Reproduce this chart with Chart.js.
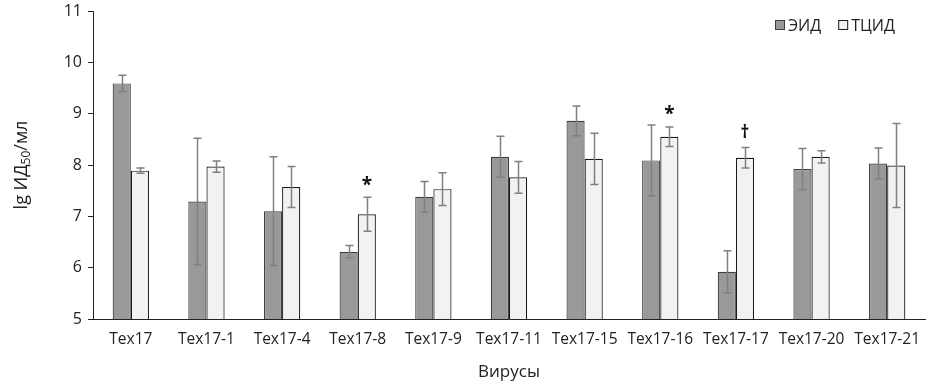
<!DOCTYPE html>
<html>
<head>
<meta charset="utf-8">
<script src="https://cdn.jsdelivr.net/npm/chart.js@4.4.1/dist/chart.umd.min.js"></script>
<style>
html,body{margin:0;padding:0;background:#fff}
#wrap{width:933px;height:390px;position:relative}
</style>
</head>
<body>
<div id="wrap"><canvas id="chart"></canvas></div>
<script>
var categories=["Tex17","Tex17-1","Tex17-4","Tex17-8","Tex17-9","Tex17-11","Tex17-15","Tex17-16","Tex17-17","Tex17-20","Tex17-21"];
var eidValues=[9.59,7.29,7.10,6.31,7.38,8.16,8.86,8.09,5.92,7.92,8.03];
var eidErrors=[0.16,1.23,1.06,0.12,0.30,0.40,0.29,0.69,0.41,0.40,0.30];
var tcidValues=[7.89,7.97,7.57,7.04,7.53,7.76,8.12,8.55,8.14,8.16,7.99];
var tcidErrors=[0.05,0.11,0.40,0.33,0.32,0.31,0.50,0.19,0.20,0.12,0.82];
var tcidMarks=["","","","*","","","","*","\u2020","",""];
var yTicks=[5,6,7,8,9,10,11];
var seriesNames=["ЭИД","ТЦИД"];

var FONT="'Open Sans', 'Noto Sans', sans-serif";
var errColor="#808080";

// error bars, significance marks, axis titles, legend
var extras={
  id:"extras",
  afterDatasetsDraw:function(chart){
    var ctx=chart.ctx,y=chart.scales.y;
    var errs=[eidErrors,tcidErrors];
    ctx.save();
    ctx.strokeStyle=errColor;
    ctx.lineWidth=1.5;
    for(var d=0;d<2;d++){
      var meta=chart.getDatasetMeta(d);
      var vals=chart.data.datasets[d].data;
      meta.data.forEach(function(bar,i){
        var top=y.getPixelForValue(vals[i]+errs[d][i]);
        var bot=y.getPixelForValue(vals[i]-errs[d][i]);
        var x=Math.round(bar.x)+0.5;
        ctx.beginPath();
        ctx.moveTo(x,top);ctx.lineTo(x,bot);
        ctx.moveTo(x-4,top);ctx.lineTo(x+4,top);
        ctx.moveTo(x-4,bot);ctx.lineTo(x+4,bot);
        ctx.stroke();
      });
    }
    // marks above the ТЦИД bars
    var meta1=chart.getDatasetMeta(1);
    ctx.fillStyle="#111";
    ctx.textAlign="center";
    ctx.textBaseline="middle";
    meta1.data.forEach(function(bar,i){
      if(!tcidMarks[i])return;
      var top=y.getPixelForValue(tcidValues[i]+tcidErrors[i]);
      ctx.font=(tcidMarks[i]==="*"?"bold 19px ":"bold 17px ")+FONT;
      ctx.fillText(tcidMarks[i],bar.x,top-(tcidMarks[i]==="*"?12:14));
    });
    // x title
    var ca=chart.chartArea;
    ctx.fillStyle="#222";
    ctx.font="17px "+FONT;
    ctx.fillText("Вирусы",(ca.left+ca.right)/2,372);
    // y title with subscript
    ctx.save();
    ctx.translate(22,(ca.top+ca.bottom)/2);
    ctx.rotate(-Math.PI/2);
    ctx.textAlign="left";
    ctx.textBaseline="middle";
    var p1="lg ИД",p2="50",p3="/мл";
    ctx.font="18px "+FONT;
    var w1=ctx.measureText(p1).width,w3=ctx.measureText(p3).width;
    ctx.font="12px "+FONT;
    var w2=ctx.measureText(p2).width;
    var x0=-(w1+w2+w3)/2;
    ctx.font="18px "+FONT;
    ctx.fillText(p1,x0,0);
    ctx.font="12px "+FONT;
    ctx.fillText(p2,x0+w1,5);
    ctx.font="18px "+FONT;
    ctx.fillText(p3,x0+w1+w2,0);
    ctx.restore();
    // legend
    ctx.font="16px "+FONT;
    ctx.textAlign="left";
    var lx=775,ly=25;
    for(var k=0;k<2;k++){
      var ds=chart.data.datasets[k];
      ctx.fillStyle=ds.backgroundColor;
      ctx.strokeStyle=ds.borderColor;
      ctx.lineWidth=1;
      ctx.fillRect(lx,ly-5,10,10);
      ctx.strokeRect(lx+0.5,ly-4.5,9,9);
      ctx.fillStyle="#222";
      ctx.fillText(seriesNames[k],lx+13,ly+1);
      lx+=13+ctx.measureText(seriesNames[k]).width+17;
    }
    ctx.restore();
  }
};

new Chart(document.getElementById("chart"),{
  type:"bar",
  data:{
    labels:categories,
    datasets:[
      {label:seriesNames[0],data:eidValues,backgroundColor:"#999999",borderColor:"#3f3f3f",borderWidth:1.2,categoryPercentage:0.48,barPercentage:1},
      {label:seriesNames[1],data:tcidValues,backgroundColor:"#f2f2f2",borderColor:"#1a1a1a",borderWidth:1.2,categoryPercentage:0.48,barPercentage:1}
    ]
  },
  options:{
    responsive:true,maintainAspectRatio:false,animation:false,
    layout:{padding:{top:11,right:8,left:0,bottom:0}},
    plugins:{legend:{display:false},tooltip:{enabled:false}},
    scales:{
      x:{
        grid:{display:false,drawTicks:false},
        border:{color:"#222",width:1},
        ticks:{color:"#222",font:{family:FONT,size:15.5},padding:11,maxRotation:0,autoSkip:false},
        afterFit:function(s){s.height=71}
      },
      y:{
        min:5,max:11,
        afterBuildTicks:function(s){s.ticks=yTicks.map(function(v){return {value:v}})},
        grid:{display:true,drawOnChartArea:false,drawTicks:true,tickLength:5,color:"#222"},
        border:{color:"#222",width:1},
        ticks:{color:"#222",font:{family:FONT,size:16},padding:6},
        afterFit:function(s){s.width=93;s.paddingTop=0;s.paddingBottom=0}
      }
    }
  },
  plugins:[extras]
});
</script>
</body>
</html>
